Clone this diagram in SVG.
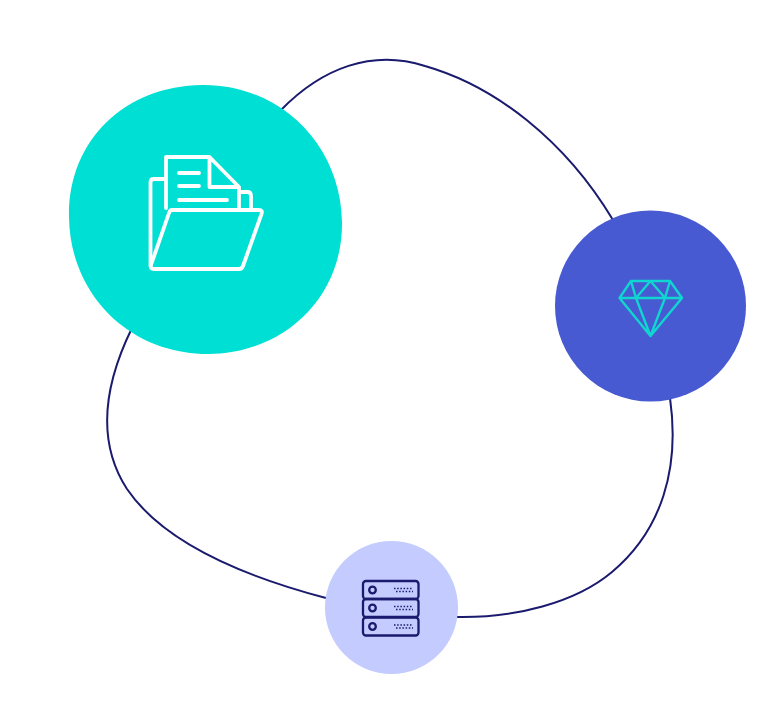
<svg xmlns="http://www.w3.org/2000/svg" width="780" height="720" viewBox="0 0 780 720">
<style>
.conn{fill:none;stroke:#1a1a6e;stroke-width:2}
.w{fill:none;stroke:#fff;stroke-width:3.8;stroke-linejoin:round;stroke-linecap:round}
.d{fill:none;stroke:#10d5d0;stroke-width:2.400;stroke-linejoin:round;stroke-linecap:round}
.s{fill:none;stroke:#1a1a6e;stroke-width:2.300;stroke-linejoin:round}
.dots{fill:none;stroke:#1a1a6e;stroke-width:1.500;stroke-dasharray:1.500 1.700}
</style>
<rect width="780" height="720" fill="#fff"/>
<g id="connectors">
<path class="conn" d="M281 110C322 68 372 49 425 66C495 86 565 140 613 220"/>
<path class="conn" d="M670 398C680 468 662 530 612 572C575 603 515 618 457 617"/>
<path class="conn" d="M326 598C250 578 165 545 127 489C96 441 104 385 132 328"/>
</g>
<g id="node-folder">
<path d="M202 85C280 84 341 145 342 222C343 298 283 354 208 354C130 354 70 295 69 217C68 140 125 86 202 85Z" fill="#00dfd3"/>
<path class="w" d="M164.500 179H154Q150.500 179 150.500 182.500V266M239 192H247.500Q251 192 251 196V208M166 208V157H209.500L239 187V208M209.500 158V187H238M179 173H199M179 186H199M179 200H227"/>
<path class="w" d="M172 210H259Q263 210 261.500 214L243 266Q242 269 239 269H154Q150 269 151 265L169 213Q170 210 172 210Z"/>
</g>
<g id="node-gem">
<circle cx="650.500" cy="306" r="95.500" fill="#475ad1"/>
<path class="d" d="M631 281H670L682 298L650.500 336L619.500 298ZM619.500 298H682M631 281L636 298L650.500 336L665 298L670 281M636 298L650.500 281L665 298"/>
</g>
<g id="node-server">
<circle cx="391.500" cy="607.500" r="66.500" fill="#c3cbff"/>
<rect class="s" x="363" y="581" width="55.500" height="18" rx="3"/>
<rect class="s" x="363" y="599" width="55.500" height="18" rx="3"/>
<rect class="s" x="363" y="617.500" width="55.500" height="18" rx="3"/>
<circle class="s" cx="372.500" cy="590" r="3.300"/>
<circle class="s" cx="372.500" cy="608" r="3.300"/>
<circle class="s" cx="372.500" cy="626.500" r="3.300"/>
<path class="dots" d="M394 588.500H412M396 591.500H413M394 606.500H412M396 609.500H413M394 625H412M396 628H413"/>
</g>
</svg>
